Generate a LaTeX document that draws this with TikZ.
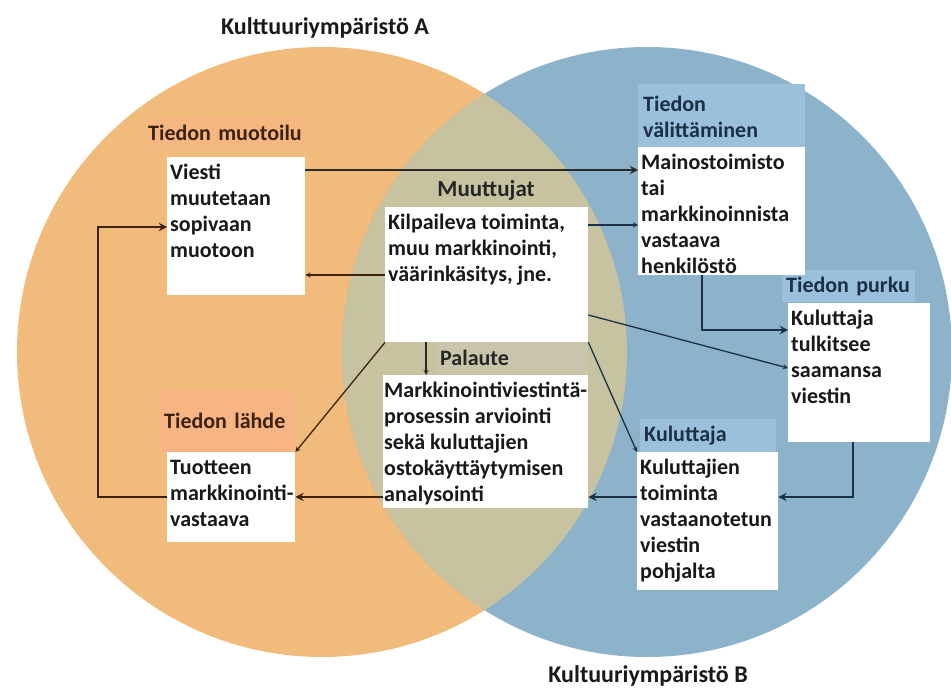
\documentclass[tikz,border=0pt]{standalone}
\usepackage{fontspec}
\setmainfont{Carlito}
\definecolor{kultA}{HTML}{F1BB7B}
\definecolor{kultB}{HTML}{8DB3CA}
\definecolor{kultAB}{HTML}{C7C2A0}
\definecolor{lohi}{HTML}{F7B584}
\definecolor{vaalsin}{HTML}{9BC0DC}
\definecolor{harmaa}{HTML}{C8C7B3}
\definecolor{ruskea}{HTML}{3E2210}
\definecolor{laivasto}{HTML}{1B3045}
\definecolor{tumma}{HTML}{2A2A2A}
\newcommand{\kaaviofont}{\fontsize{22}{26}\selectfont\bfseries}
\newcommand{\boxteksti}[3]{\parbox[b][#2][t]{#1}{\raggedright\hyphenpenalty=10000\exhyphenpenalty=10000\strut #3}}
\begin{document}
\begin{tikzpicture}[x=1pt,y=-1pt,font=\kaaviofont,
		laatikko/.style={fill=white,anchor=north west,inner xsep=3pt,inner ysep=4pt,text=black!90},
		otsikko/.style={anchor=north west,inner xsep=4pt,inner ysep=0pt,align=left},
		ymparisto/.style={font=\fontsize{24}{28}\selectfont\bfseries,text=black!90},
		paksu/.style={line width=2.6pt,-stealth},
		ohut/.style={line width=1.3pt,-stealth}]
		\useasboundingbox (0,0) rectangle (951,690);
		\fill[kultA] (322,352) circle (305pt);
		\fill[kultB] (647,352) circle (305pt);
		\begin{scope}
			\clip (322,352) circle (305pt);
			\fill[kultAB] (647,352) circle (305pt);
		\end{scope}
		\node[ymparisto] (ympA) at (325,28) {Kulttuuriympäristö A};
		\node[ymparisto] (ympB) at (648,676) {Kultuuriympäristö B};
		\node[otsikko,fill=lohi!60!kultA,text=ruskea,inner xsep=2pt,text width=158pt,minimum height=34pt] (muotoiluots) at (146,116) {Tiedon muotoilu};
		\node[otsikko,fill=lohi,text=ruskea,text width=127pt,minimum height=62pt] (lahdeots) at (160,390) {Tiedon lähde};
		\node[otsikko,fill=vaalsin,text=laivasto,inner xsep=5pt,text width=157pt,minimum height=66pt] (valitysots) at (638,84) {Tiedon\\välittäminen};
		\node[otsikko,fill=vaalsin,text=laivasto,text width=125pt,minimum height=32pt] (purkuots) at (782,270) {Tiedon purku};
		\node[otsikko,fill=vaalsin,text=laivasto,text width=128pt,minimum height=33pt] (kuluttajaots) at (640,419) {Kuluttaja};
		\node[text=black!85,font=\fontsize{23}{27}\selectfont\bfseries] (muuttujatots) at (486,190) {Muuttujat};
		\node[otsikko,fill=harmaa!60!kultAB,text=black!85,text width=144pt,minimum height=31pt] (palauteots) at (436,342) {Palaute};
		\node[laatikko] (viesti) at (167,157) {\boxteksti{132pt}{130pt}{Viesti\\muutetaan\\sopivaan\\muotoon}};
		\node[laatikko] (mainos) at (638,147) {\boxteksti{161pt}{120pt}{Mainostoimisto\\tai\\markkinoinnista\\vastaava\\henkilöstö}};
		\node[laatikko] (muuttujat) at (385,207) {\boxteksti{197pt}{127pt}{Kilpaileva toiminta,\\muu markkinointi,\\väärinkäsitys, jne.}};
		\node[laatikko,inner xsep=1pt] (palaute) at (383,375) {\boxteksti{203pt}{125pt}{Markkinointiviestintä-\\prosessin arviointi\\sekä kuluttajien\\ostokäyttäytymisen\\analysointi}};
		\node[laatikko] (purku) at (788,303) {\boxteksti{136pt}{131pt}{Kuluttaja\\tulkitsee\\saamansa\\viestin}};
		\node[laatikko] (kuluttaja) at (637,452) {\boxteksti{135pt}{130pt}{Kuluttajien\\toiminta\\vastaanotetun\\viestin\\pohjalta}};
		\node[laatikko] (lahde) at (167,452) {\boxteksti{122pt}{82pt}{Tuotteen\\markkinointi-\\vastaava}};
		\coordinate (va) at ([yshift=-13pt]viesti.north east);
		\draw[paksu,tumma] (va) -- (va -| mainos.west);
		\coordinate (mb) at ([yshift=-18pt]muuttujat.north east);
		\draw[ohut,laivasto] (mb) -- (mb -| mainos.west);
		\coordinate (mc) at ([yshift=-68pt]muuttujat.north west);
		\draw[ohut,ruskea] (mc) -- (mc -| viesti.east);
		\draw[ohut,laivasto] ([yshift=-108pt]muuttujat.north east) -- ([yshift=-65pt]purku.north west);
		\draw[ohut,ruskea] (muuttujat.south west) -- (lahde.north east);
		\draw[ohut,laivasto] (muuttujat.south east) -- (kuluttaja.north west);
		\coordinate (mg) at ([xshift=41pt]muuttujat.south west);
		\draw[ohut,tumma] (mg) -- (mg |- palaute.north);
		\draw[paksu,laivasto] ([xshift=64pt]mainos.south west) |- ([yshift=-27pt]purku.north west);
		\draw[paksu,laivasto] ([xshift=65pt]purku.south west) |- ([yshift=-45pt]kuluttaja.north east);
		\coordinate (kj) at ([yshift=-45pt]kuluttaja.north west);
		\draw[paksu,laivasto] (kj) -- (kj -| palaute.east);
		\coordinate (pk) at ([yshift=-122pt]palaute.north west);
		\draw[paksu,ruskea] (pk) -- (pk -| lahde.east);
		\draw[paksu,ruskea] ([yshift=-45pt]lahde.north west) -- ++(-69,0) |- ([yshift=-70pt]viesti.north west);
	\end{tikzpicture}
\end{document}
